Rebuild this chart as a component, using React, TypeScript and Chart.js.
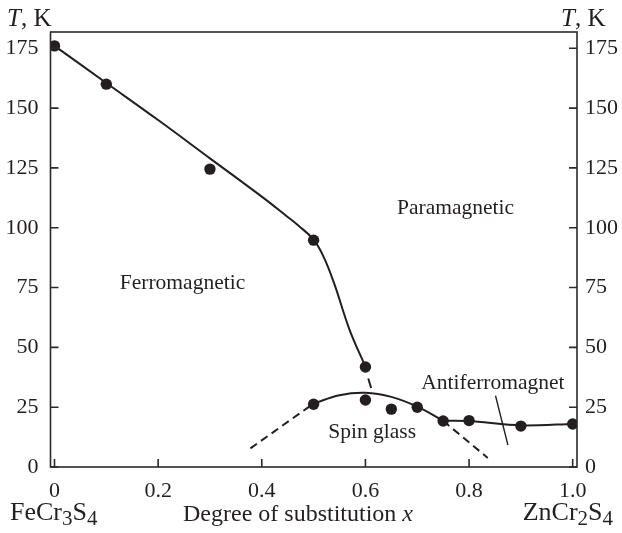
import React, { useEffect, useRef } from 'react';
import { Chart, registerables } from 'chart.js';

Chart.register(...registerables);

// measured points (x = degree of substitution, T in K)
const pointX = [0, 0.1, 0.3, 0.5, 0.6, 0.5, 0.6, 0.65, 0.7, 0.75, 0.8, 0.9, 1.0];
const pointT = [176, 160, 124.5, 94.8, 41.8, 26.2, 28, 24.2, 25, 19.2, 19.4, 17.1, 18];

// ferromagnetic boundary curve
const ferroX = [0, 0.1, 0.2, 0.3, 0.4, 0.45, 0.47, 0.5, 0.52, 0.54, 0.57, 0.6];
const ferroT = [176, 160.5, 145, 129, 113, 104.5, 101, 95, 87.5, 76.5, 57, 42];

// spin-glass dome
const glassX = [0.5, 0.55, 0.6, 0.65, 0.7, 0.75];
const glassT = [26.5, 30, 31, 29.3, 25.2, 19.3];

// antiferromagnet line
const afX = [0.75, 0.8, 0.9, 1.0];
const afT = [19.3, 19.2, 17.4, 18];

// dashed extensions
const dashLeftX = [0.378, 0.5];
const dashLeftT = [7.8, 26.5];
const dashRightX = [0.75, 0.836];
const dashRightT = [19.3, 3.8];
const dashMidX = [0.6055, 0.611];
const dashMidT = [37, 33];

// slanted boundary line
const slantX = [0.851, 0.875];
const slantT = [29.8, 9.2];

const xTicks = [0, 0.2, 0.4, 0.6, 0.8, 1.0];
const xTickLabels = ['0', '0.2', '0.4', '0.6', '0.8', '1.0'];
const yTicks = [0, 25, 50, 75, 100, 125, 150, 175];
const yTickLabels = ['0', '25', '50', '75', '100', '125', '150', '175'];

const INK = '#231f20';
const SERIF = '"Liberation Serif", "Times New Roman", serif';

const pts = (xs: number[], ys: number[]) => xs.map((x, i) => ({ x, y: ys[i] }));

type Seg = { t: string; size: number; italic?: boolean; dy?: number };

function drawRich(ctx: CanvasRenderingContext2D, segs: Seg[], x: number, y: number, align: 'left' | 'center' | 'right') {
  const widths = segs.map((s) => {
    ctx.font = `${s.italic ? 'italic ' : ''}${s.size}px ${SERIF}`;
    return ctx.measureText(s.t).width;
  });
  const total = widths.reduce((a, b) => a + b, 0);
  let cx = align === 'left' ? x : align === 'center' ? x - total / 2 : x - total;
  ctx.textAlign = 'left';
  ctx.textBaseline = 'alphabetic';
  segs.forEach((s, i) => {
    ctx.font = `${s.italic ? 'italic ' : ''}${s.size}px ${SERIF}`;
    ctx.fillText(s.t, cx, y + (s.dy || 0));
    cx += widths[i];
  });
}

const decorPlugin = {
  id: 'decor',
  afterDraw(chart: any) {
    const { ctx, chartArea } = chart;
    const xs = chart.scales.x;
    const ys = chart.scales.y;
    const { left, right, top, bottom } = chartArea;
    ctx.save();
    ctx.strokeStyle = '#2a2a2a';
    ctx.lineWidth = 1.6;
    ctx.strokeRect(left, top, right - left, bottom - top);
    ctx.beginPath();
    yTicks.forEach((v) => {
      const py = ys.getPixelForValue(v);
      ctx.moveTo(left, py);
      ctx.lineTo(left + 8, py);
      ctx.moveTo(right, py);
      ctx.lineTo(right - 8, py);
    });
    xTicks.forEach((v) => {
      const px = xs.getPixelForValue(v);
      ctx.moveTo(px, bottom);
      ctx.lineTo(px, bottom - 8);
    });
    ctx.stroke();

    ctx.fillStyle = INK;
    // axis unit titles
    drawRich(ctx, [{ t: 'T', size: 25, italic: true }, { t: ', K', size: 25 }], 7, 26, 'left');
    drawRich(ctx, [{ t: 'T', size: 25, italic: true }, { t: ', K', size: 25 }], 561, 26, 'left');

    // region labels
    const lab = (t: string, x: number, y: number) => {
      ctx.font = `21.5px ${SERIF}`;
      ctx.textAlign = 'center';
      ctx.textBaseline = 'alphabetic';
      ctx.fillText(t, xs.getPixelForValue(x), ys.getPixelForValue(y));
    };
    lab('Paramagnetic', 0.774, 105.7);
    lab('Ferromagnetic', 0.247, 74.4);
    lab('Spin glass', 0.613, 12);
    lab('Antiferromagnet', 0.846, 32.4);

    // bottom labels
    const by = 520;
    drawRich(
      ctx,
      [
        { t: 'FeCr', size: 26 },
        { t: '3', size: 21, dy: 5 },
        { t: 'S', size: 26 },
        { t: '4', size: 21, dy: 5 },
      ],
      10,
      by,
      'left'
    );
    drawRich(
      ctx,
      [
        { t: 'ZnCr', size: 26 },
        { t: '2', size: 21, dy: 5 },
        { t: 'S', size: 26 },
        { t: '4', size: 21, dy: 5 },
      ],
      613,
      by,
      'right'
    );
    drawRich(
      ctx,
      [
        { t: 'Degree of substitution ', size: 24 },
        { t: 'x', size: 24, italic: true },
      ],
      298,
      521,
      'center'
    );
    ctx.restore();
  },
};

export default function App() {
  const ref = useRef<HTMLCanvasElement | null>(null);
  useEffect(() => {
    document.body.style.margin = '0';
    const canvas = ref.current;
    if (!canvas) return;
    const lineDs = (xs: number[], ys: number[], dash: number[] = [], tension = 0.4) => ({
      data: pts(xs, ys),
      showLine: true,
      borderColor: INK,
      borderWidth: 2,
      borderDash: dash,
      pointRadius: 0,
      tension,
      fill: false,
    });
    const chart = new Chart(canvas, {
      type: 'scatter',
      data: {
        datasets: [
          lineDs(ferroX, ferroT),
          lineDs(glassX, glassT),
          lineDs(afX, afT, [], 0.3),
          lineDs(dashLeftX, dashLeftT, [8, 5], 0),
          lineDs(dashRightX, dashRightT, [8, 5], 0),
          lineDs(dashMidX, dashMidT, [], 0),
          { ...lineDs(slantX, slantT, [], 0), borderWidth: 1.4 },
          {
            data: pts(pointX, pointT),
            showLine: false,
            pointRadius: 5.7,
            pointBackgroundColor: INK,
            pointBorderColor: INK,
            pointBorderWidth: 0,
          } as any,
        ],
      },
      options: {
        animation: false,
        responsive: false,
        devicePixelRatio: 1,
        layout: { padding: { top: 32, left: 0, right: 0, bottom: 0 } },
        plugins: { legend: { display: false }, tooltip: { enabled: false } },
        scales: {
          x: {
            type: 'linear',
            position: 'bottom',
            min: -0.0077,
            max: 1.0083,
            grid: { display: false, drawTicks: false },
            border: { display: false },
            afterBuildTicks: (s: any) => {
              s.ticks = xTicks.map((v) => ({ value: v }));
            },
            afterFit: (s: any) => {
              s.height = 66;
            },
            ticks: {
              padding: 11,
              maxRotation: 0,
              autoSkip: false,
              color: INK,
              font: { family: SERIF, size: 22 },
              callback: (v: any) => {
                const i = xTicks.findIndex((t) => Math.abs(t - Number(v)) < 1e-6);
                return i >= 0 ? xTickLabels[i] : '';
              },
            },
          },
          y: {
            type: 'linear',
            position: 'left',
            min: 0,
            max: 181.8,
            grid: { display: false, drawTicks: false },
            border: { display: false },
            afterBuildTicks: (s: any) => {
              s.ticks = yTicks.map((v) => ({ value: v }));
            },
            afterFit: (s: any) => {
              s.width = 50.5;
            },
            ticks: {
              padding: 12,
              autoSkip: false,
              color: INK,
              font: { family: SERIF, size: 22 },
              callback: (v: any) => {
                const i = yTicks.indexOf(Number(v));
                return i >= 0 ? yTickLabels[i] : '';
              },
            },
          },
          y2: {
            type: 'linear',
            position: 'right',
            min: 0,
            max: 181.8,
            grid: { display: false, drawTicks: false },
            border: { display: false },
            afterBuildTicks: (s: any) => {
              s.ticks = yTicks.map((v) => ({ value: v }));
            },
            afterFit: (s: any) => {
              s.width = 45;
            },
            ticks: {
              padding: 8,
              autoSkip: false,
              color: INK,
              font: { family: SERIF, size: 22 },
              callback: (v: any) => {
                const i = yTicks.indexOf(Number(v));
                return i >= 0 ? yTickLabels[i] : '';
              },
            },
          },
        },
      },
      plugins: [decorPlugin],
    });
    return () => chart.destroy();
  }, []);
  return <canvas ref={ref} width={622} height={533} style={{ display: 'block' }} />;
}
